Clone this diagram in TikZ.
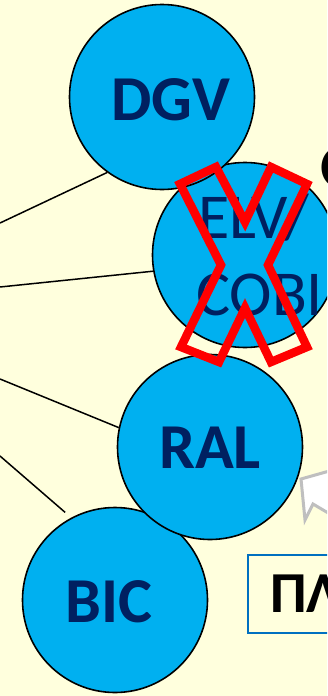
\documentclass[tikz,border=0pt]{standalone}
\usepackage{fontspec}
\setmainfont{Carlito}
\usepackage{tikz}

\definecolor{paper}{HTML}{FFFFDD}
\definecolor{ballblue}{HTML}{00B0F0}
\definecolor{inkblue}{HTML}{002060}
\definecolor{frameblue}{HTML}{0070C0}

\begin{document}
\begin{tikzpicture}[x=1pt,y=-1pt,
  ball/.style={circle, draw=black, line width=1.6, fill=ballblue, minimum size=185, inner sep=0},
  lbl/.style={text=inkblue, font=\fontsize{64}{70}\selectfont\bfseries, inner sep=0},
  thin lbl/.style={text=inkblue, font=\fontsize{64}{70}\selectfont, inner sep=0},
  link/.style={line width=1.5}]
\fill[paper] (0,0) rectangle (327,696);
\useasboundingbox (0,0) rectangle (327,696);
\clip (0,0) rectangle (327,696);

% free ends on the left border
\coordinate (l1) at (0,223);
\coordinate (l2) at (0,287);
\coordinate (l3) at (0,379);
\coordinate (l4) at (0,456);

% balls
\node[ball] (bic) at (115,600) {};
\node[lbl] (bictxt) at (109,602) {BIC};
\node[ball] (ral) at (210,447) {};
\node[lbl] (raltxt) at (210,448) {RAL};
\node[ball] (elv) at (245,255) {};
\node[thin lbl, anchor=base west] (elvtop) at (198,238) {ELV/};
\node[thin lbl, anchor=base west] (elvbot) at (196,315) {COBI};
\node[ball] (dgv) at (162,97) {};
\node[lbl] (dgvtxt) at (171,100) {DGV};

\draw[link] (l1) -- (dgv.234);
\draw[link] (l2) -- (elv.190);
\draw[link] (l3) -- (ral.168);
\draw[link, shorten >=8pt] (l4) -- (bic.118);

% crossed out
\draw[red, line width=8.5, line join=miter]
  (180,184) -- (216,167) -- (245,222) -- (271,167) -- (307,184)
  -- (268,265) -- (307,347) -- (271,362) -- (245,308) -- (219,362)
  -- (181,347) -- (221,265) -- cycle;

% letter cut by the edge
\node[anchor=base west, font=\fontsize{64}{70}\selectfont\bfseries, inner sep=0] (big) at (320,188) {O};

% hollow pointer
\filldraw[fill=white, draw=black!25, line width=3, line join=miter]
  (301,479) -- (340,468) -- (350,530) -- (335,517) -- (313,504) -- (305,520) -- cycle;

% framed caption
\draw[frameblue, line width=1.5] (248,555) rectangle (345,633);
\node[anchor=base west, font=\fontsize{58}{64}\selectfont\bfseries, inner sep=0] (cap) at (270,612) {ΠΛ};
\end{tikzpicture}
\end{document}
